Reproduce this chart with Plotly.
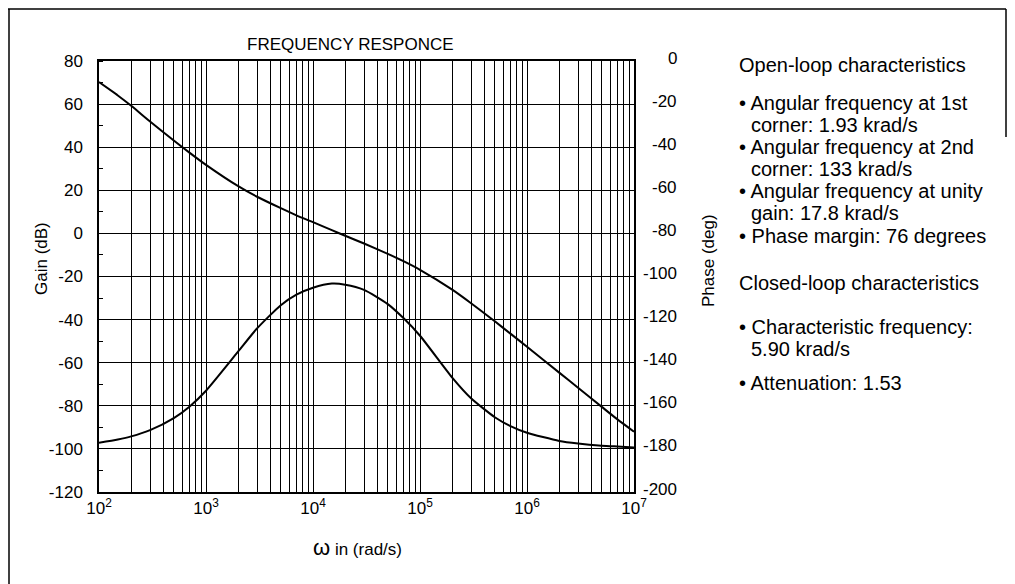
import plotly.graph_objects as go

# ---------------- data ----------------
freq = [1e2, 1.5e2, 2e2, 3e2, 5e2, 7e2, 1e3, 2e3, 3e3, 5e3, 7e3, 1e4, 1.5e4, 2e4, 3e4,
        5e4, 7e4, 1e5, 2e5, 3e5, 5e5, 7e5, 1e6, 2e6, 3e6, 5e6, 7e6, 1e7]
gain_db = [70.2, 64.0, 59.2, 51.9, 43.1, 37.5, 31.8, 21.9, 17.0, 11.7, 8.4, 5.2, 1.5, -1.1, -4.7,
           -9.5, -12.9, -16.9, -26.1, -32.4, -40.8, -46.5, -52.6, -64.6, -71.6, -80.5, -86.3, -92.0]
phase_deg = [-177.1, -175.6, -174.2, -171.3, -165.7, -160.4, -153.0, -134.8, -124.1, -113.3, -108.4,
             -105.2, -103.3, -103.8, -106.2, -112.8, -119.3, -127.5, -146.9, -156.5, -165.3,
             -169.4, -172.5, -176.3, -177.5, -178.5, -178.9, -179.3]

decades = [2, 3, 4, 5, 6, 7]
gain_ticks = [-120, -100, -80, -60, -40, -20, 0, 20, 40, 60, 80]
phase_ticks = [-200, -180, -160, -140, -120, -100, -80, -60, -40, -20, 0]

title_text = "FREQUENCY RESPONCE"
gain_title = "Gain (dB)"
phase_title = "Phase (deg)"
x_title = "ω in (rad/s)"

side_lines = [
    ("head", "Open-loop characteristics", 65),
    ("bullet", "• Angular frequency at 1st", 103),
    ("cont", "corner: 1.93 krad/s", 125),
    ("bullet", "• Angular frequency at 2nd", 147),
    ("cont", "corner: 133 krad/s", 169),
    ("bullet", "• Angular frequency at unity", 191),
    ("cont", "gain: 17.8 krad/s", 213),
    ("bullet", "• Phase margin: 76 degrees", 236),
    ("head", "Closed-loop characteristics", 283),
    ("bullet", "• Characteristic frequency:", 327),
    ("cont", "5.90 krad/s", 349),
    ("bullet", "• Attenuation: 1.53", 383),
]

# ---------------- layout geometry (page pixels; page body has an 8px margin) ----------------
OFF = 8
W, H = 1015 - OFF, 584 - OFF
L, R, T, B = 99, 634, 61, 492          # plot area edges in page pixels
FONT = "Liberation Sans, Arial, Helvetica, sans-serif"


def px_x(px):
    return (px - L) / (R - L)


def px_y(py):
    return (B - py) / (B - T)


# all log gridlines (1..9 in each decade)
grid_vals, grid_text = [], []
for d in decades[:-1]:
    for m in range(1, 10):
        grid_vals.append(m * 10 ** d)
        grid_text.append(f"10<sup>{d}</sup>" if m == 1 else "")
grid_vals.append(10 ** decades[-1])
grid_text.append(f"10<sup>{decades[-1]}</sup>")

fig = go.Figure()
fig.add_trace(go.Scatter(x=freq, y=gain_db, mode="lines", yaxis="y",
                         line=dict(color="black", width=2, shape="spline", smoothing=0.6),
                         hoverinfo="skip"))
fig.add_trace(go.Scatter(x=freq, y=phase_deg, mode="lines", yaxis="y2",
                         line=dict(color="black", width=2, shape="spline", smoothing=0.6),
                         hoverinfo="skip"))

axis_font = dict(family=FONT, size=17, color="black")

fig.update_layout(
    width=W, height=H,
    margin=dict(l=L - OFF, r=W - (R - OFF), t=T - OFF, b=H - (B - OFF), pad=0),
    paper_bgcolor="white", plot_bgcolor="white",
    showlegend=False,
    font=dict(family=FONT, color="black"),
    xaxis=dict(type="log", range=[decades[0], decades[-1]],
               tickmode="array", tickvals=grid_vals, ticktext=grid_text,
               showgrid=True, gridcolor="black", gridwidth=1,
               showline=True, linecolor="black", linewidth=1.5, mirror=True,
               ticks="", tickfont=axis_font, zeroline=False),
    yaxis=dict(range=[gain_ticks[0], gain_ticks[-1]], tickmode="array",
               tickvals=gain_ticks, ticktext=[str(v) for v in gain_ticks],
               showgrid=True, gridcolor="black", gridwidth=1,
               showline=True, linecolor="black", linewidth=1.5, mirror=True,
               ticks="", ticklabelstandoff=11, tickfont=axis_font, zeroline=False,
               minor=dict(dtick=10, ticks="inside", ticklen=4, tickcolor="black", showgrid=False)),
    yaxis2=dict(range=[phase_ticks[0], phase_ticks[-1]], overlaying="y", side="right",
                tickmode="array", tickvals=phase_ticks, showticklabels=False,
                showgrid=False, zeroline=False, showline=False, ticks=""),
)

annotations = []
# right-aligned phase tick labels
for v in phase_ticks:
    annotations.append(dict(x=px_x(679), xref="paper", y=v, yref="y2", text=str(v),
                            showarrow=False, xanchor="right", yanchor="middle", yshift=3,
                            font=axis_font))
annotations.append(dict(x=px_x(350), y=px_y(44), xref="paper", yref="paper", text=title_text,
                        showarrow=False, xanchor="center", yanchor="middle",
                        font=dict(family=FONT, size=17, color="black")))
annotations.append(dict(x=px_x(42), y=px_y(259), xref="paper", yref="paper", text=gain_title,
                        showarrow=False, textangle=-90, xanchor="center", yanchor="middle",
                        font=dict(family=FONT, size=17, color="black")))
annotations.append(dict(x=px_x(708), y=px_y(261), xref="paper", yref="paper", text=phase_title,
                        showarrow=False, textangle=-90, xanchor="center", yanchor="middle",
                        font=dict(family=FONT, size=17, color="black")))
annotations.append(dict(x=px_x(357), y=px_y(547), xref="paper", yref="paper",
                        text="<span style='font-size:22px'>ω</span> in (rad/s)",
                        showarrow=False, xanchor="center", yanchor="middle",
                        font=dict(family=FONT, size=17, color="black")))
for kind, txt, py in side_lines:
    xpos = {"head": 737, "bullet": 737, "cont": 749}[kind]
    annotations.append(dict(x=px_x(xpos), y=px_y(py), xref="paper", yref="paper", text=txt,
                            showarrow=False, xanchor="left", yanchor="middle",
                            font=dict(family=FONT, size=20, color="black")))
fig.update_layout(annotations=annotations)

# frame around the whole figure (as in the scan)
border = dict(type="line", xref="paper", yref="paper", line=dict(color="black", width=1.5))
fig.add_shape(**border, x0=px_x(8), x1=px_x(1006), y0=px_y(9), y1=px_y(9))
fig.add_shape(**border, x0=px_x(9), x1=px_x(9), y0=px_y(9), y1=px_y(584))
fig.add_shape(**border, x0=px_x(1006), x1=px_x(1006), y0=px_y(9), y1=px_y(137))

fig.write_html("out.html")
